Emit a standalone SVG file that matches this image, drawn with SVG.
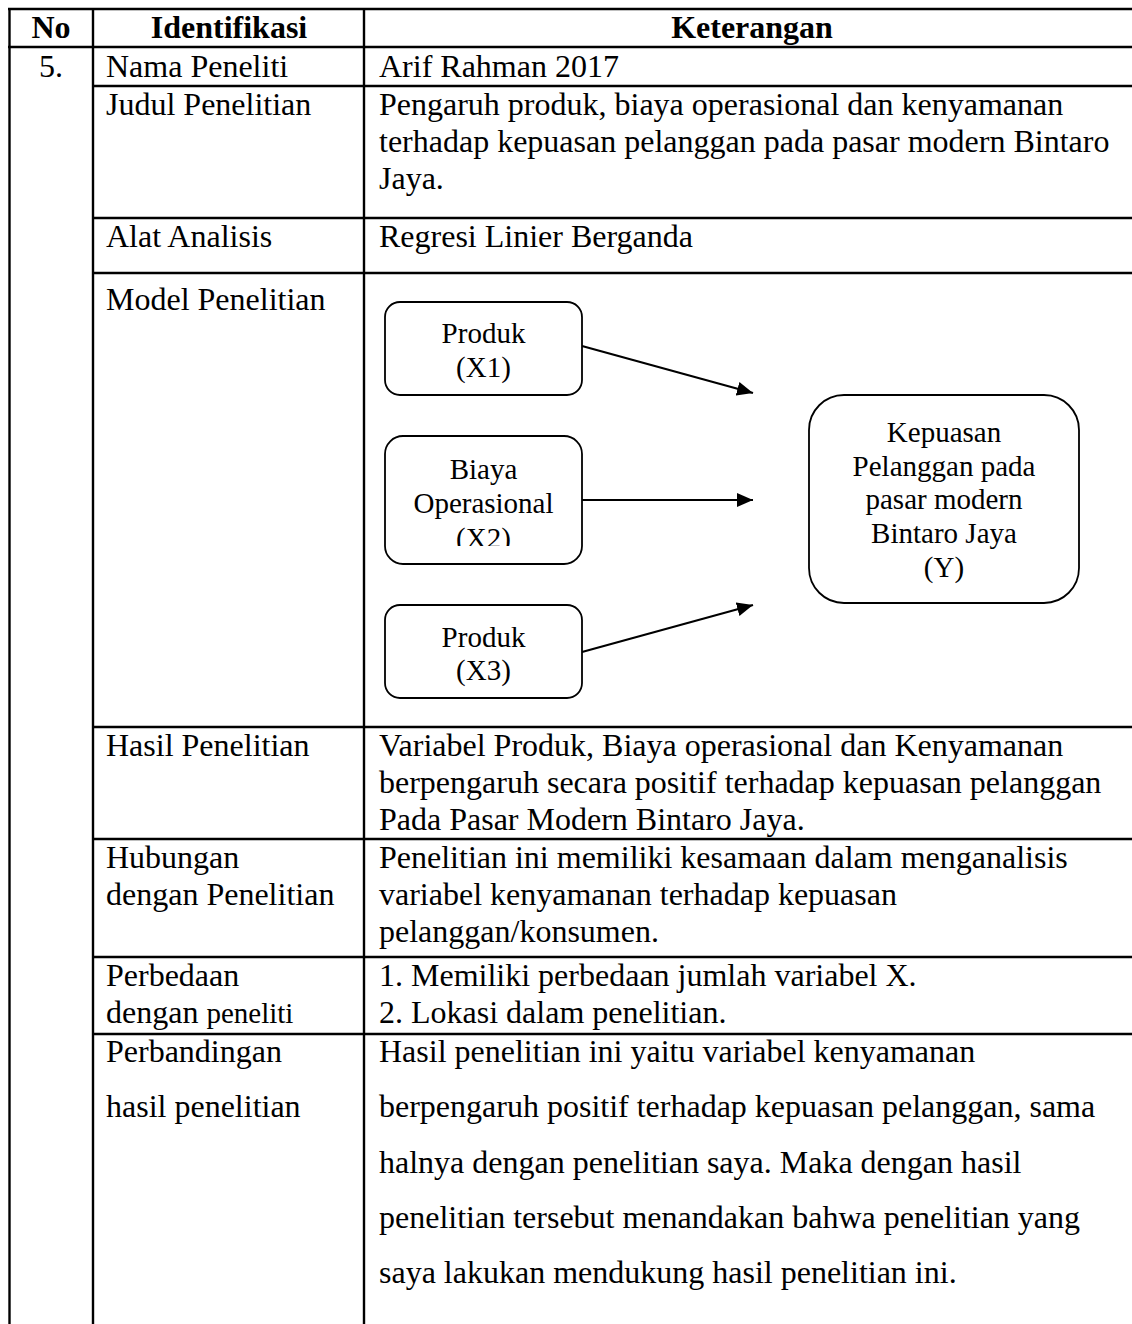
<svg xmlns="http://www.w3.org/2000/svg" width="1132" height="1324" viewBox="0 0 1132 1324">
<style>
.t{font-family:"Liberation Serif","Times New Roman",serif;font-size:32px;fill:#000}
.b{font-weight:bold}
.c{text-anchor:middle}
.d{font-family:"Liberation Serif","Times New Roman",serif;font-size:29px;fill:#000;text-anchor:middle}
.g{stroke:#000;stroke-width:2.4;fill:none}
.box{fill:#fff;stroke:#000;stroke-width:1.8}
.conn{stroke:#000;stroke-width:2.2;fill:none}
</style>
<defs>
<marker id="ah" viewBox="0 0 16 14" refX="16" refY="7" markerWidth="16" markerHeight="14" markerUnits="userSpaceOnUse" orient="auto">
<path d="M0,0 L16,7 L0,14 z" fill="#000"/>
</marker>
<clipPath id="clipX2"><rect x="385" y="436" width="197" height="110"/></clipPath>
</defs>
<rect width="1132" height="1324" fill="#fff"/>
<g id="grid">
<line class="g" x1="9.5" y1="9" x2="9.5" y2="1324"/>
<line class="g" x1="93" y1="9" x2="93" y2="1324"/>
<line class="g" x1="364" y1="9" x2="364" y2="1324"/>
<line class="g" x1="8" y1="9" x2="1132" y2="9"/>
<line class="g" x1="8" y1="47" x2="1132" y2="47"/>
<line class="g" x1="93" y1="86" x2="1132" y2="86"/>
<line class="g" x1="93" y1="218" x2="1132" y2="218"/>
<line class="g" x1="93" y1="273" x2="1132" y2="273"/>
<line class="g" x1="93" y1="727" x2="1132" y2="727"/>
<line class="g" x1="93" y1="839" x2="1132" y2="839"/>
<line class="g" x1="93" y1="957" x2="1132" y2="957"/>
<line class="g" x1="93" y1="1034" x2="1132" y2="1034"/>
</g>
<g id="header">
<text class="t b c" x="51" y="38">No</text>
<text class="t b c" x="229" y="38">Identifikasi</text>
<text class="t b c" x="752" y="38">Keterangan</text>
</g>
<g id="rows">
<text class="t c" x="51" y="77">5.</text>
<text class="t" x="106" y="77">Nama Peneliti</text>
<text class="t" x="379" y="77">Arif Rahman 2017</text>
<text class="t" x="106" y="115">Judul Penelitian</text>
<text class="t" x="379" y="115">Pengaruh produk, biaya operasional dan kenyamanan</text>
<text class="t" x="379" y="152">terhadap kepuasan pelanggan pada pasar modern Bintaro</text>
<text class="t" x="379" y="189">Jaya.</text>
<text class="t" x="106" y="247">Alat Analisis</text>
<text class="t" x="379" y="247">Regresi Linier Berganda</text>
<text class="t" x="106" y="310">Model Penelitian</text>
<text class="t" x="106" y="756">Hasil Penelitian</text>
<text class="t" x="379" y="756">Variabel Produk, Biaya operasional dan Kenyamanan</text>
<text class="t" x="379" y="793">berpengaruh secara positif terhadap kepuasan pelanggan</text>
<text class="t" x="379" y="830">Pada Pasar Modern Bintaro Jaya.</text>
<text class="t" x="106" y="868">Hubungan</text>
<text class="t" x="106" y="905">dengan Penelitian</text>
<text class="t" x="379" y="868">Penelitian ini memiliki kesamaan dalam menganalisis</text>
<text class="t" x="379" y="905">variabel kenyamanan terhadap kepuasan</text>
<text class="t" x="379" y="942">pelanggan/konsumen.</text>
<text class="t" x="106" y="986">Perbedaan</text>
<text class="t" x="106" y="1023">dengan <tspan font-size="29">peneliti</tspan></text>
<text class="t" x="379" y="986">1. Memiliki perbedaan jumlah variabel X.</text>
<text class="t" x="379" y="1023">2. Lokasi dalam penelitian.</text>
<text class="t" x="106" y="1062">Perbandingan</text>
<text class="t" x="106" y="1117">hasil penelitian</text>
<text class="t" x="379" y="1062">Hasil penelitian ini yaitu variabel kenyamanan</text>
<text class="t" x="379" y="1117">berpengaruh positif terhadap kepuasan pelanggan, sama</text>
<text class="t" x="379" y="1173">halnya dengan penelitian saya. Maka dengan hasil</text>
<text class="t" x="379" y="1228">penelitian tersebut menandakan bahwa penelitian yang</text>
<text class="t" x="379" y="1283">saya lakukan mendukung hasil penelitian ini.</text>
</g>
<g id="connectors">
<line class="conn" x1="582" y1="346" x2="753" y2="393" marker-end="url(#ah)"/>
<line class="conn" x1="582" y1="500" x2="753" y2="500" marker-end="url(#ah)"/>
<line class="conn" x1="582" y1="652" x2="753" y2="605" marker-end="url(#ah)"/>
</g>
<g id="node-x1">
<rect class="box" x="385" y="302" width="197" height="93" rx="15"/>
<text class="d" x="483.5" y="343">Produk</text>
<text class="d" x="483.5" y="377">(X1)</text>
</g>
<g id="node-x2">
<rect class="box" x="385" y="436" width="197" height="128" rx="18"/>
<g clip-path="url(#clipX2)">
<text class="d" x="483.5" y="479">Biaya</text>
<text class="d" x="483.5" y="513">Operasional</text>
<text class="d" x="483.5" y="548">(X2)</text>
</g>
</g>
<g id="node-x3">
<rect class="box" x="385" y="605" width="197" height="93" rx="15"/>
<text class="d" x="483.5" y="647">Produk</text>
<text class="d" x="483.5" y="680">(X3)</text>
</g>
<g id="node-y">
<rect class="box" x="809" y="395" width="270" height="208" rx="35"/>
<text class="d" x="944" y="442">Kepuasan</text>
<text class="d" x="944" y="476">Pelanggan pada</text>
<text class="d" x="944" y="509">pasar modern</text>
<text class="d" x="944" y="543">Bintaro Jaya</text>
<text class="d" x="944" y="577">(Y)</text>
</g>
</svg>
